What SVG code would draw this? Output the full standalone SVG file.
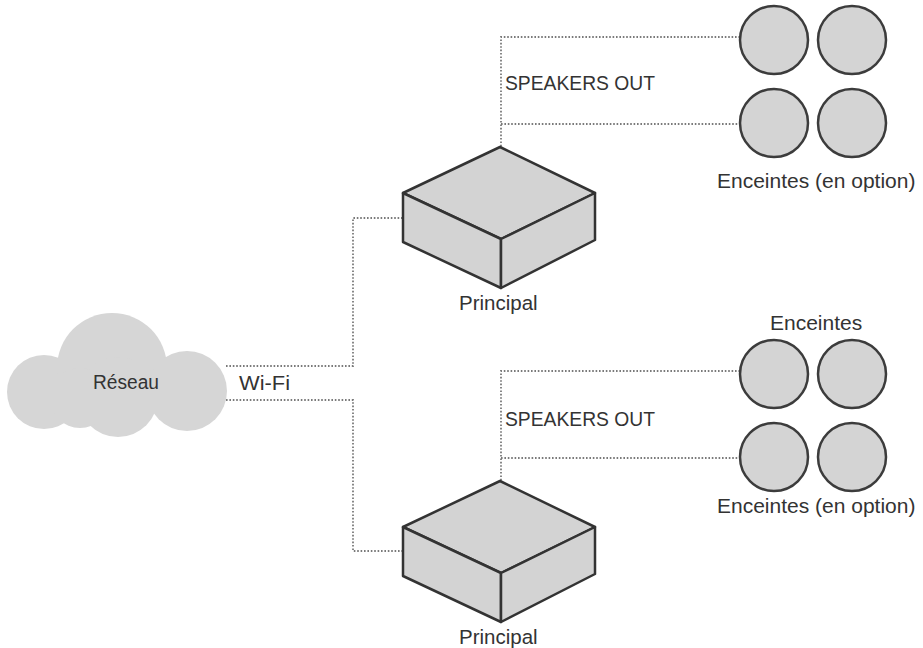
<svg xmlns="http://www.w3.org/2000/svg" width="923" height="648" viewBox="0 0 923 648">
<style>
text{font-family:"Liberation Sans",Arial,sans-serif;fill:#333;}
.lbl{font-size:21px;}
.dot{fill:none;stroke:#7a7a7a;stroke-width:1.8;stroke-dasharray:1.6 1.8;}
.spk{fill:#d4d4d4;stroke:#3c3c3c;stroke-width:2.5;}
.box{fill:#d3d3d3;stroke:#333;stroke-width:2.5;stroke-linejoin:round;}
.cloud{fill:#d6d6d6;}
</style>
<defs>
<g id="boxshape">
<polygon class="box" points="500,147 595,193 501,239 403,193"/>
<polygon class="box" points="403,193 501,239 501,288 403,242"/>
<polygon class="box" points="501,239 595,193 595,240 501,288"/>
</g>
</defs>
<rect width="923" height="648" fill="#fff"/>
<g id="connectors">
<polyline class="dot" points="226,366 353,366 353,218 403,218"/>
<polyline class="dot" points="226,400 353,400 353,551 403,551"/>
<polyline class="dot" points="740,37 501,37 501,147"/>
<line class="dot" x1="501" y1="124" x2="740" y2="124"/>
<polyline class="dot" points="740,371 501,371 501,481"/>
<line class="dot" x1="501" y1="458" x2="740" y2="458"/>
</g>
<g id="reseau">
<circle class="cloud" cx="44" cy="392" r="37"/>
<circle class="cloud" cx="112" cy="368" r="55"/>
<circle class="cloud" cx="187" cy="391" r="40"/>
<circle class="cloud" cx="118" cy="397" r="40"/>
<circle class="cloud" cx="80" cy="398" r="30"/>
<text x="93" y="389" style="font-size:20px" textLength="66" lengthAdjust="spacingAndGlyphs">Réseau</text>
</g>
<text id="wifi" x="239" y="390" style="font-size:20px" textLength="51" lengthAdjust="spacingAndGlyphs">Wi-Fi</text>
<g id="principal1">
<use href="#boxshape"/>
<text x="459" y="310" style="font-size:20.5px">Principal</text>
</g>
<g id="principal2">
<use href="#boxshape" transform="translate(0,334)"/>
<text x="459" y="644" style="font-size:20.5px">Principal</text>
</g>
<g id="speakers1">
<text class="lbl" x="505" y="90" textLength="150" lengthAdjust="spacingAndGlyphs">SPEAKERS OUT</text>
<circle class="spk" cx="774" cy="40" r="34"/>
<circle class="spk" cx="852" cy="40" r="34"/>
<circle class="spk" cx="774" cy="123" r="34"/>
<circle class="spk" cx="852" cy="123" r="34"/>
<text class="lbl" x="717" y="188">Enceintes (en option)</text>
</g>
<g id="speakers2">
<text class="lbl" x="770" y="330">Enceintes</text>
<text class="lbl" x="505" y="426" textLength="150" lengthAdjust="spacingAndGlyphs">SPEAKERS OUT</text>
<circle class="spk" cx="774" cy="374" r="34"/>
<circle class="spk" cx="852" cy="374" r="34"/>
<circle class="spk" cx="774" cy="457" r="34"/>
<circle class="spk" cx="852" cy="457" r="34"/>
<text class="lbl" x="717" y="513">Enceintes (en option)</text>
</g>
</svg>
